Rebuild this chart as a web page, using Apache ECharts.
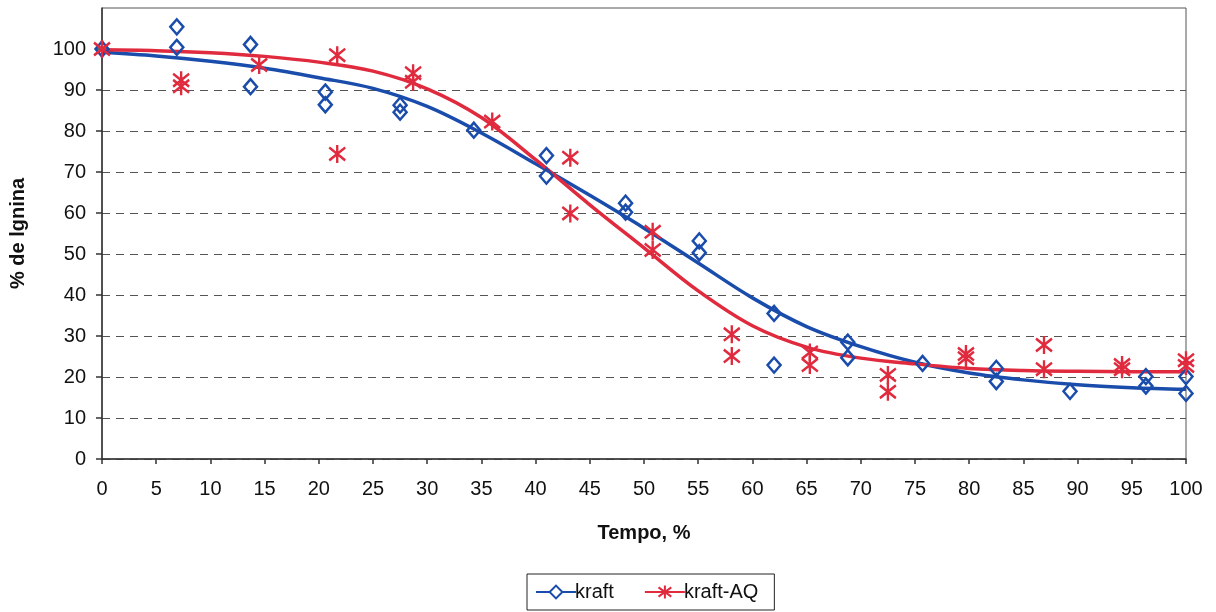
<!DOCTYPE html>
<html>
<head>
<meta charset="utf-8">
<script src="https://cdn.jsdelivr.net/npm/echarts@6/dist/echarts.min.js"></script>
<style>
  html, body { margin: 0; padding: 0; background: #fff; }
  #main { width: 1216px; height: 612px; }
</style>
</head>
<body>
<div id="main"></div>
<script>
// pontos medidos
var kraftX = [0, 6.9, 6.9, 13.7, 13.7, 20.6, 20.6, 27.5, 27.5, 34.3, 41.0, 41.0, 48.3, 48.3, 55.1, 55.1, 62.0, 62.0, 68.8, 68.8, 75.7, 82.5, 82.5, 89.3, 96.3, 96.3, 100, 100];
var kraftY = [100, 105.4, 100.4, 101.1, 90.8, 89.5, 86.4, 86.3, 84.6, 80.2, 74.0, 69.0, 62.4, 60.2, 53.2, 50.3, 35.5, 22.9, 28.5, 24.7, 23.3, 22.1, 18.9, 16.5, 20.1, 17.8, 20.1, 16.0];

var aqX = [0, 7.3, 7.3, 14.5, 21.7, 21.7, 28.7, 28.7, 36.0, 43.2, 43.2, 50.8, 50.8, 58.1, 58.1, 65.3, 65.3, 72.5, 72.5, 79.7, 79.7, 86.9, 86.9, 94.1, 94.1, 100, 100];
var aqY = [100, 92.4, 90.9, 96.1, 98.5, 74.4, 94.1, 92.0, 82.3, 73.5, 59.9, 55.4, 51.0, 30.4, 25.1, 26.0, 22.9, 20.5, 16.4, 25.6, 24.6, 27.8, 21.9, 22.9, 21.9, 24.1, 22.7];

// curvas ajustadas
var fitX = [0, 5, 10, 15, 20, 25, 30, 35, 40, 45, 50, 55, 60, 65, 70, 75, 80, 85, 90, 95, 100];
var kraftFit = [99.2, 98.3, 97, 95.3, 93, 90.4, 86, 79.5, 72, 64.3, 56.3, 47.8, 39.3, 32.3, 27.4, 23.6, 21, 19.3, 18.1, 17.4, 17];
var aqFit = [99.8, 99.6, 99.1, 98.2, 96.8, 94.6, 90.3, 83.3, 73, 62, 51.5, 41, 32.5, 27.3, 24.6, 23.2, 22.1, 21.6, 21.4, 21.3, 21.3];

var yTicks = [0, 10, 20, 30, 40, 50, 60, 70, 80, 90, 100];

var blue = '#1a4cab';
var red = '#e02a3e';
var star = 'path://M6,0L6,14M0,2L12,12M0,12L12,2';

function pairs(xs, ys) {
  var out = [];
  for (var i = 0; i < xs.length; i++) out.push([xs[i], ys[i]]);
  return out;
}

var chart = echarts.init(document.getElementById('main'), null, { renderer: 'canvas' });

var option = {
  backgroundColor: '#fff',
  animation: false,
  textStyle: { fontFamily: 'Liberation Sans, Arial, sans-serif' },
  grid: {
    left: 101, right: 30, top: 8, bottom: 153,
    show: true, borderColor: '#555', borderWidth: 1
  },
  legend: {
    data: ['kraft', 'kraft-AQ'],
    left: 527, top: 574,
    padding: [8, 16, 8, 8],
    itemGap: 30,
    itemWidth: 40, itemHeight: 16,
    borderColor: '#222', borderWidth: 1, borderRadius: 0,
    textStyle: { fontSize: 20, color: '#111', padding: [0, 0, 0, -6] }
  },
  xAxis: {
    type: 'value',
    min: 0, max: 100, interval: 5,
    name: 'Tempo, %',
    nameLocation: 'middle',
    nameGap: 64,
    nameTextStyle: { fontSize: 20, fontWeight: 'bold', color: '#111' },
    axisLine: { lineStyle: { color: '#333', width: 1.5 } },
    axisTick: { show: true, length: 5, lineStyle: { color: '#333', width: 1.5 } },
    axisLabel: { fontSize: 20, color: '#111', margin: 20 },
    splitLine: { show: false }
  },
  yAxis: {
    type: 'value',
    min: 0, max: 110, interval: 10,
    name: '% de lgnina',
    nameLocation: 'middle',
    nameGap: 74,
    nameRotate: 90,
    nameTextStyle: { fontSize: 20, fontWeight: 'bold', color: '#111' },
    axisLine: { show: true, lineStyle: { color: '#333', width: 1.5 } },
    axisTick: { show: true, length: 6, customValues: yTicks, lineStyle: { color: '#333', width: 1.5 } },
    axisLabel: { fontSize: 20, color: '#111', margin: 16, customValues: yTicks },
    splitLine: { show: true, showMaxLine: false, lineStyle: { color: '#555', type: [8, 6], width: 1 } }
  },
  series: [
    {
      name: 'kraft',
      type: 'line',
      smooth: 0.35,
      showSymbol: false,
      symbol: 'diamond',
      symbolSize: [13, 15],
      itemStyle: { color: '#fff', borderColor: blue, borderWidth: 2.5 },
      lineStyle: { color: blue, width: 3.5 },
      data: pairs(fitX, kraftFit),
      z: 3
    },
    {
      name: 'kraft-AQ',
      type: 'line',
      smooth: 0.35,
      showSymbol: false,
      symbol: star,
      symbolSize: [16, 18],
      itemStyle: { color: 'rgba(0,0,0,0)', borderColor: red, borderWidth: 2.5 },
      lineStyle: { color: red, width: 3.5 },
      data: pairs(fitX, aqFit),
      z: 3
    },
    {
      name: 'kraft pontos',
      type: 'scatter',
      symbol: 'diamond',
      symbolSize: [13, 15],
      itemStyle: { color: 'rgba(255,255,255,0)', borderColor: blue, borderWidth: 2.5, opacity: 1 },
      data: pairs(kraftX, kraftY),
      z: 4
    },
    {
      name: 'kraft-AQ pontos',
      type: 'scatter',
      symbol: star,
      symbolSize: [16, 18],
      itemStyle: { color: 'rgba(0,0,0,0)', borderColor: red, borderWidth: 2.5, opacity: 1 },
      data: pairs(aqX, aqY),
      z: 4
    }
  ]
};

chart.setOption(option);
</script>
</body>
</html>
